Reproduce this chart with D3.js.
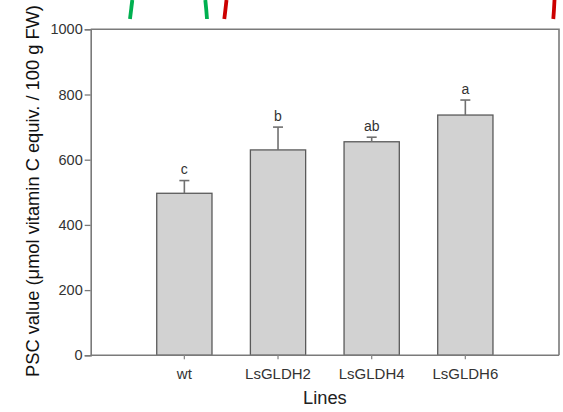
<!DOCTYPE html>
<html><head><meta charset="utf-8">
<script src="https://cdn.jsdelivr.net/npm/d3@7"></script>
<style>html,body{margin:0;padding:0;background:#fff;}svg{display:block;}</style>
</head><body>
<script>
const categories = ["wt", "LsGLDH2", "LsGLDH4", "LsGLDH6"];
const values = [497, 630, 655, 737];
const errors = [39, 70, 14, 46];
const letters = ["c", "b", "ab", "a"];
const yTicks = [0, 200, 400, 600, 800, 1000];

const W = 563, H = 412;
const mLeft = 90.7, mRight = 559, mTop = 29.3, mBottom = 355.3;
const step = (mRight - mLeft) / 5;

const svg = d3.select("body").append("svg").attr("width", W).attr("height", H);

// decorative arcs (fragments at top)
const deco = [
  {d: "M132.3,0 Q131,11 130,19", c: "#00b050"},
  {d: "M205.3,0 Q206.5,11 207,19", c: "#00b050"},
  {d: "M226.5,0 Q225.3,11 224.3,19", c: "#cc0000"},
  {d: "M554.5,0 Q554,11 553.3,19", c: "#cc0000"}
];
svg.selectAll("path.deco").data(deco).join("path")
  .attr("d", d => d.d).attr("fill", "none").attr("stroke", d => d.c)
  .attr("stroke-width", 3.8);

const x = d3.scaleBand().domain(categories)
  .range([mLeft + step / 2, mLeft + step * 4.5])
  .paddingInner(0.41).paddingOuter(0.205);
const y = d3.scaleLinear().domain([0, 1000]).range([mBottom, mTop]);

// frame top/right
svg.append("path").attr("d", `M${mLeft},${mTop}H${mRight}V${mBottom}`)
  .attr("fill", "none").attr("stroke", "#7a7a7a").attr("stroke-width", 1.6);

// bars
svg.selectAll("rect.bar").data(categories).join("rect")
  .attr("x", d => x(d)).attr("width", x.bandwidth())
  .attr("y", (d, i) => y(values[i])).attr("height", (d, i) => mBottom - y(values[i]))
  .attr("fill", "#d2d2d2").attr("stroke", "#5a5a5a").attr("stroke-width", 1.3);

// error bars
const eb = svg.append("g").attr("stroke", "#707070").attr("stroke-width", 1.6);
categories.forEach((c, i) => {
  const cx = x(c) + x.bandwidth() / 2;
  eb.append("line").attr("x1", cx).attr("x2", cx)
    .attr("y1", y(values[i])).attr("y2", y(values[i] + errors[i]));
  eb.append("line").attr("x1", cx - 5).attr("x2", cx + 5)
    .attr("y1", y(values[i] + errors[i])).attr("y2", y(values[i] + errors[i]));
});

// letters
svg.selectAll("text.let").data(categories).join("text")
  .attr("x", d => x(d) + x.bandwidth() / 2)
  .attr("y", (d, i) => y(values[i] + errors[i]) - 6.5)
  .attr("text-anchor", "middle")
  .attr("font-family", "Liberation Sans, Arial, sans-serif")
  .attr("font-size", 14).attr("fill", "#333").text((d, i) => letters[i]);

// y axis
const yAxis = svg.append("g").attr("transform", `translate(${mLeft},0)`)
  .call(d3.axisLeft(y).tickValues(yTicks).tickSize(6).tickPadding(2).tickFormat(d3.format("d")));
yAxis.select(".domain").attr("stroke", "#7a7a7a").attr("stroke-width", 1.6);
yAxis.selectAll(".tick line").attr("stroke", "#7a7a7a").attr("stroke-width", 1.3);
yAxis.selectAll(".tick text").attr("font-family", "Liberation Sans, Arial, sans-serif")
  .attr("font-size", 14.5).attr("fill", "#333");

// x axis
const xAxis = svg.append("g").attr("transform", `translate(0,${mBottom})`)
  .call(d3.axisBottom(x).tickSize(4).tickPadding(9).tickSizeOuter(0));
xAxis.select(".domain").attr("d", `M${mLeft},0H${mRight}`).attr("stroke", "#7a7a7a").attr("stroke-width", 1.6);
xAxis.selectAll(".tick line").attr("stroke", "#8a8a8a").attr("stroke-width", 1.3);
xAxis.selectAll(".tick text").attr("font-family", "Liberation Sans, Arial, sans-serif")
  .attr("font-size", 15).attr("fill", "#333");

// titles
svg.append("text").attr("x", (mLeft + mRight) / 2).attr("y", 404)
  .attr("text-anchor", "middle").attr("font-family", "Liberation Sans, Arial, sans-serif")
  .attr("font-size", 18.3).attr("fill", "#222").text("Lines");
svg.append("text").attr("transform", `translate(38.5,191) rotate(-90)`)
  .attr("text-anchor", "middle").attr("font-family", "Liberation Sans, Arial, sans-serif")
  .attr("font-size", 18.3).attr("fill", "#111").text("PSC value (μmol vitamin C equiv. / 100 g FW)");
</script>
</body></html>
